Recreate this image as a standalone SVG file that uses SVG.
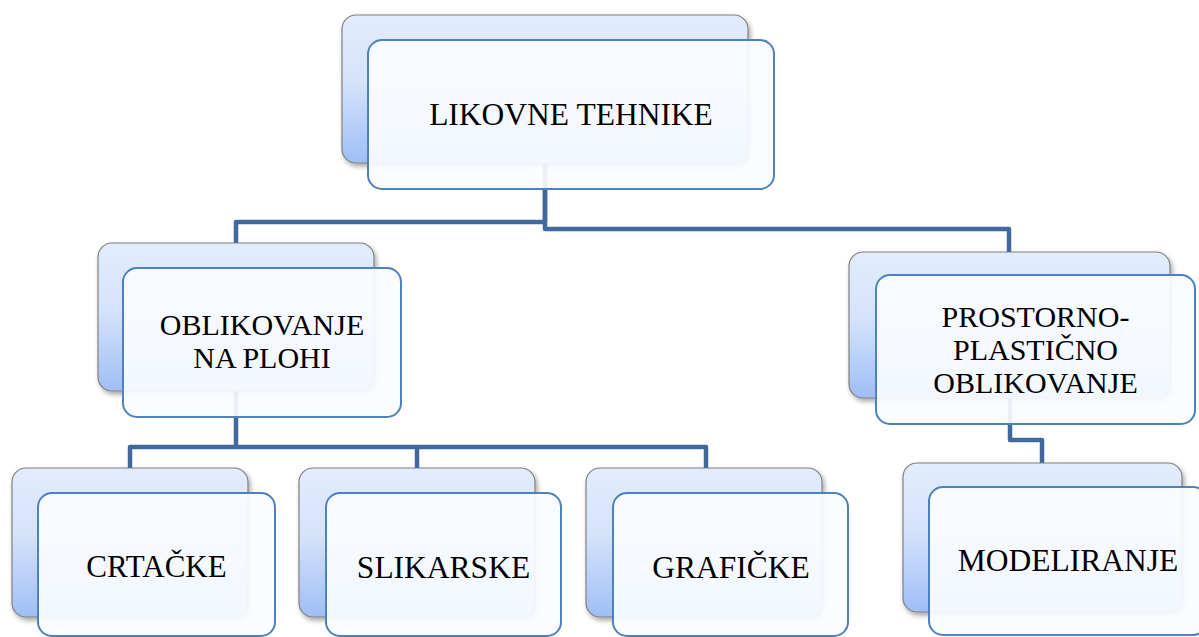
<svg xmlns="http://www.w3.org/2000/svg" width="1199" height="637" viewBox="0 0 1199 637">
  <defs>
    <linearGradient id="backGrad" x1="0" y1="0" x2="0" y2="1">
      <stop offset="0" stop-color="#e2ecfd"/>
      <stop offset="0.45" stop-color="#d5e3fb"/>
      <stop offset="1" stop-color="#9fbef6"/>
    </linearGradient>
    <filter id="shadow" x="-10%" y="-10%" width="125%" height="130%">
      <feDropShadow dx="2" dy="3" stdDeviation="2.5" flood-color="#000" flood-opacity="0.35"/>
    </filter>
  </defs>
  <style>
    .back { fill: url(#backGrad); stroke: #808080; stroke-width: 1.2; filter: url(#shadow); }
    .front { fill: #fafcff; fill-opacity: 0.92; stroke: #4f81bd; stroke-width: 2; }
    .conn { fill: none; stroke: #41699e; stroke-width: 4.5; stroke-linejoin: round; }
    text { font-family: 'Liberation Serif', 'Times New Roman', 'DejaVu Serif', serif; fill: #000; text-anchor: middle; }
  </style>
  <rect width="1199" height="637" fill="#ffffff"/>

  <g id="connectors">
    <path class="conn" d="M545,163 V222 H236 V243"/>
    <path class="conn" d="M545,163 V229 H1009 V252"/>
    <path class="conn" d="M236,391 V447"/>
    <path class="conn" d="M130,468 V447 H706 V468"/>
    <path class="conn" d="M417,447 V468"/>
    <path class="conn" d="M1010,398 V440 H1042 V463"/>
  </g>

  <g id="node-likovne-tehnike">
    <rect class="back" x="342" y="15" width="406" height="148" rx="14"/>
    <rect class="front" x="368" y="40" width="406" height="149" rx="14"/>
    <text font-family="Liberation Serif, serif" x="571" y="125" font-size="31.5">LIKOVNE TEHNIKE</text>
  </g>

  <g id="node-oblikovanje-na-plohi">
    <rect class="back" x="98" y="243" width="276" height="148" rx="14"/>
    <rect class="front" x="123" y="268" width="278" height="149" rx="14"/>
    <text font-family="Liberation Serif, serif" x="262" y="335" font-size="30">OBLIKOVANJE</text>
    <text font-family="Liberation Serif, serif" x="262" y="368" font-size="30">NA PLOHI</text>
  </g>

  <g id="node-prostorno-plasticno">
    <rect class="back" x="849" y="252" width="321" height="146" rx="14"/>
    <rect class="front" x="876" y="275" width="319" height="149" rx="14"/>
    <text font-family="Liberation Serif, serif" x="1035.5" y="327" font-size="30">PROSTORNO-</text>
    <text font-family="Liberation Serif, serif" x="1035.5" y="360" font-size="30">PLASTIČNO</text>
    <text font-family="Liberation Serif, serif" x="1035.5" y="393" font-size="30">OBLIKOVANJE</text>
  </g>

  <g id="node-crtacke">
    <rect class="back" x="12" y="468" width="236" height="149" rx="14"/>
    <rect class="front" x="38" y="493" width="237" height="143" rx="14"/>
    <text font-family="Liberation Serif, serif" x="156.5" y="577" font-size="31">CRTAČKE</text>
  </g>

  <g id="node-slikarske">
    <rect class="back" x="299" y="468" width="236" height="149" rx="14"/>
    <rect class="front" x="326" y="493" width="235" height="143" rx="14"/>
    <text font-family="Liberation Serif, serif" x="443.5" y="578" font-size="31.5">SLIKARSKE</text>
  </g>

  <g id="node-graficke">
    <rect class="back" x="586" y="468" width="236" height="149" rx="14"/>
    <rect class="front" x="613" y="493" width="235" height="143" rx="14"/>
    <text font-family="Liberation Serif, serif" x="731" y="578" font-size="31.5">GRAFIČKE</text>
  </g>

  <g id="node-modeliranje">
    <rect class="back" x="903" y="463" width="279" height="149" rx="14"/>
    <rect class="front" x="929" y="487" width="278" height="148" rx="14"/>
    <text font-family="Liberation Serif, serif" x="1068" y="571" font-size="31.5">MODELIRANJE</text>
  </g>
</svg>
